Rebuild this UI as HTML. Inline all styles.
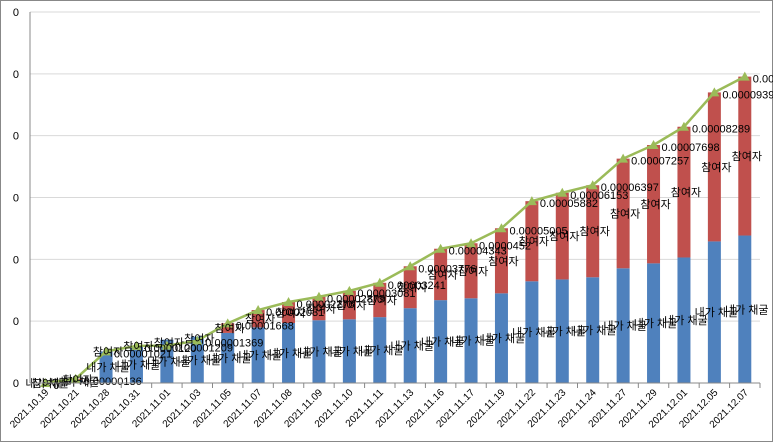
<!DOCTYPE html>
<html><head><meta charset="utf-8">
<style>
html,body{margin:0;padding:0;background:#fff;}
svg{display:block;font-family:"Liberation Sans","Noto Sans CJK KR","NanumGothic",sans-serif;}
</style></head>
<body>
<svg id="chart" width="773" height="442" viewBox="0 0 773 442">
<rect x="0.5" y="0.5" width="772" height="441" fill="#fff" stroke="#888"/>
<g id="grid"></g><g id="bars"></g><g id="line"></g><g id="labels"></g><g id="axes"></g>
</svg>
<script>
const categories=["2021.10.19","2021.10.21","2021.10.28","2021.10.31","2021.11.01","2021.11.03","2021.11.05","2021.11.07","2021.11.08","2021.11.09","2021.11.10","2021.11.11","2021.11.13","2021.11.16","2021.11.17","2021.11.19","2021.11.22","2021.11.23","2021.11.24","2021.11.27","2021.11.29","2021.12.01","2021.12.05","2021.12.07"];
const mineValues=[0,0.1,1.02,1.2,1.4,1.5,1.62,1.8,1.94,2.03,2.06,2.13,2.42,2.68,2.74,2.9,3.29,3.35,3.42,3.71,3.87,4.06,4.58,4.77];
const totalValues=[0,0.136,1.021,1.2,1.209,1.369,1.93,2.36,2.62,2.79,2.98,3.241,3.776,4.343,4.52,5.005,5.882,6.153,6.397,7.257,7.698,8.289,9.399,9.91];
const totalLabels=["0","0.00000136","0.00001021","0.0000120","0.00001209","0.00001369","0.00001668","0.00002031","0.00002276","0.00002879","0.00003081","0.00003241","0.00003776","0.00004343","0.0000452","0.00005005","0.00005882","0.00006153","0.00006397","0.00007257","0.00007698","0.00008289","0.00009399","0.0000991"];
const yTicks=[0,2,4,6,8,10,12];
const yTickLabels=["0","0","0","0","0","0","0"];

const NS="http://www.w3.org/2000/svg";
const L=30,R=760,T=12,B=383,yMax=12;
const step=(R-L)/categories.length;
const x=i=>L+step*(i+0.5);
const y=v=>B-(v/yMax)*(B-T);
function mk(tag,attrs,parent,text){const e=document.createElementNS(NS,tag);for(const k in attrs)e.setAttribute(k,attrs[k]);if(text!==undefined)e.textContent=text;document.getElementById(parent).appendChild(e);return e;}

yTicks.forEach((t,i)=>{
  const g=mk("line",{x1:L,x2:R,y1:y(t),y2:y(t),stroke:"#d9d9d9","stroke-width":1},"grid");
  
  
  const tl=mk("text",{x:19,y:y(t)+4,"font-size":11,"text-anchor":"end",fill:"#000"},"axes",yTickLabels[i]);
  
  
});
const ax=mk("line",{x1:L,x2:L,y1:T,y2:B,stroke:"#888"},"axes");


const xa=mk("line",{x1:L,x2:R,y1:B,y2:B,stroke:"#888"},"axes");



const bw=13;
categories.forEach((c,i)=>{
  const cx=x(i);
  const m=mineValues[i],t=totalValues[i];
  const b=mk("rect",{x:cx-bw/2,y:y(m),width:bw,height:B-y(m),fill:"#4f81bd"},"bars");
  
  
  const r=mk("rect",{x:cx-bw/2,y:y(t),width:bw,height:Math.max(0,y(m)-y(t)),fill:"#c0504d"},"bars");
  
  
  const tk=mk("line",{x1:L+step*(i+1),x2:L+step*(i+1),y1:B,y2:B+5,stroke:"#888"},"axes");
  
  
  const lx=cx+4,ly=B+10;
  const xl=mk("text",{x:lx,y:ly,"font-size":10,"text-anchor":"end",transform:`rotate(-45 ${lx} ${ly})`,fill:"#000"},"axes",c);
  
  
  // labels
  const ml=mk("text",{x:cx+2,y:(y(m)+B)/2+4,"font-size":11,"text-anchor":"middle",fill:"#000"},"labels","내가 채굴");
  
  
  const pl=mk("text",{x:cx+2,y:(y(m)+y(t))/2+4,"font-size":11,"text-anchor":"middle",fill:"#000"},"labels","참여자");
  
  
  const vl=mk("text",{x:cx+8,y:y(t)+6,"font-size":11,fill:"#000"},"labels",totalLabels[i]);
  
  
});
const pts=totalValues.map((v,i)=>x(i)+","+y(v)).join(" ");
const pl=mk("polyline",{points:pts,fill:"none",stroke:"#9bbb59","stroke-width":2.5},"line");


totalValues.forEach((v,i)=>{
  const px=x(i),py=y(v);
  const m=mk("polygon",{points:`${px-5},${py+4} ${px+5},${py+4} ${px},${py-5}`,fill:"#9bbb59"},"line");
  
  
});
</script>
</body></html>
